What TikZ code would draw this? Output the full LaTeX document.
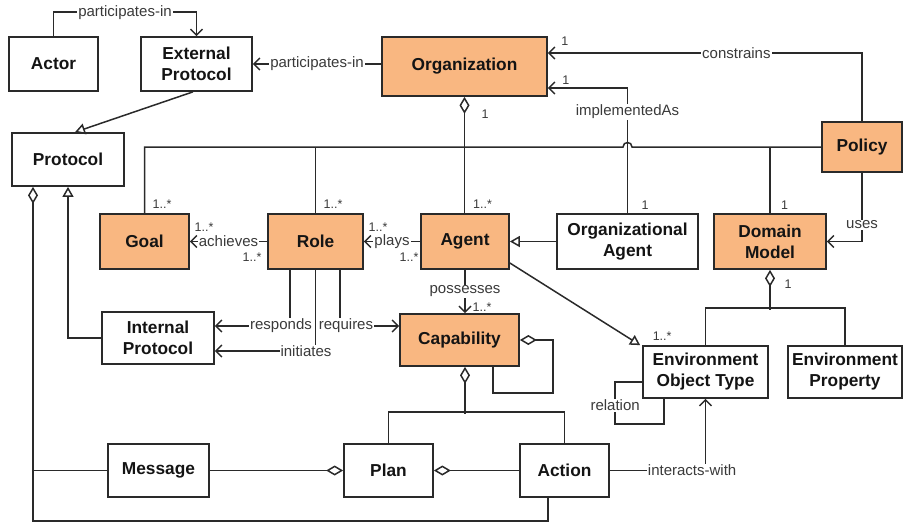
\documentclass[tikz,border=0pt]{standalone}
\usepackage{fontspec}
\setmainfont{Liberation Sans}
\usetikzlibrary{arrows.meta}
\definecolor{orangefill}{RGB}{249,183,129}
\definecolor{ink}{RGB}{42,42,42}
\definecolor{labelink}{RGB}{58,58,58}

\begin{document}
\begin{tikzpicture}[x=1pt,y=-1pt,
  cls/.style={draw=ink, line width=1.7pt, fill=white, inner sep=0pt, align=center,
    text=black!92, font=\fontsize{17.3}{21}\selectfont\bfseries},
  hot/.style={cls, fill=orangefill},
  link/.style={draw=ink, line width=1.5pt},
  assoc/.style={link, -{Straight Barb[length=6pt,width=12pt]}},
  gen/.style={link, -{Triangle[open,length=10pt,width=11pt]}},
  aggend/.style={link, -{Diamond[open,length=17pt,width=10pt]}},
  aggstart/.style={link, {Diamond[open,length=17pt,width=10pt]}-},
  lbl/.style={fill=white, inner sep=1pt, text=labelink, font=\fontsize{15}{16}\selectfont},
  mult/.style={inner sep=0pt, text=labelink, font=\fontsize{12.5}{13}\selectfont},
]
\useasboundingbox (0,0) rectangle (904,523);

% classes
\node[cls, minimum width=89pt,  minimum height=54pt] (actor)    at (53.5,64)   {Actor};
\node[cls, minimum width=111pt, minimum height=54pt] (ep)       at (196.5,64)  {External\\Protocol};
\node[cls, minimum width=112pt, minimum height=53pt] (protocol) at (68,159.5)  {Protocol};
\node[hot, minimum width=165pt, minimum height=59pt] (org)      at (464.5,66.5) {Organization};
\node[hot, minimum width=80pt,  minimum height=50pt] (policy)   at (862,147)   {Policy};
\node[hot, minimum width=89pt,  minimum height=55pt] (goal)     at (144.5,241.5) {Goal};
\node[hot, minimum width=95pt,  minimum height=55pt] (role)     at (315.5,241.5) {Role};
\node[hot, minimum width=88pt,  minimum height=55pt] (agent)    at (465,241.5) {Agent};
\node[cls, minimum width=141pt, minimum height=55pt] (oa)       at (627.5,241.5) {Organizational\\Agent};
\node[hot, minimum width=112pt, minimum height=55pt] (dm)       at (770,241.5) {Domain\\Model};
\node[cls, minimum width=112pt, minimum height=52pt] (ip)       at (158,338)   {Internal\\Protocol};
\node[hot, minimum width=119pt, minimum height=52pt] (cap)      at (459.5,340) {Capability};
\node[cls, minimum width=125pt, minimum height=52pt] (eot)      at (705.5,372) {Environment\\Object Type};
\node[cls, minimum width=114pt, minimum height=52pt] (envprop)  at (845,372)   {Environment\\Property};
\node[cls, minimum width=101pt, minimum height=53pt] (message)  at (158.5,470.5) {Message};
\node[cls, minimum width=89pt,  minimum height=53pt] (plan)     at (388.5,470.5) {Plan};
\node[cls, minimum width=89pt,  minimum height=53pt] (action)   at (564.5,470.5) {Action};

% participation in protocols
\draw[assoc] (actor.north) -- ++(0,-24) -| node[lbl, pos=0.25] {participates-in} (ep.north);
\draw[assoc] (ep.east -| org.west) -- node[lbl] {participates-in} (ep.east);
\draw[gen] ([xshift=-3.5pt]ep.south) -- ([xshift=7pt]protocol.north);

% organization constraints and implementation
\draw[assoc] (policy.north) |- node[lbl, pos=0.7] {constrains} ([yshift=13.5pt]org.east);
\node[mult] at ([xshift=17pt,yshift=25.5pt]org.east) {1};
\draw[assoc] (oa.north) |- node[lbl, pos=0.405] {implementedAs} ([yshift=-21.5pt]org.east);
\node[mult] at ([xshift=18pt,yshift=-13.5pt]org.east) {1};

% aggregation bus under the organization
\coordinate (hop) at (oa.north |- policy.west);
\draw[link] (goal.north) -- (goal.north |- policy.west) -- ([xshift=-4.5pt]hop)
  .. controls +(0,6pt) and +(0,6pt) .. ([xshift=4.5pt]hop) -- (policy.west);
\draw[link] (role.north) -- (role.north |- policy.west);
\draw[link] (dm.north) -- (dm.north |- policy.west);
\draw[aggstart] (org.south) -- (org.south |- agent.north);
\node[mult] at ([xshift=20.5pt,yshift=-17pt]org.south) {1};
\node[mult] at ([xshift=17.5pt,yshift=9pt]goal.north) {1..*};
\node[mult] at ([xshift=17.5pt,yshift=9pt]role.north) {1..*};
\node[mult] at ([xshift=17.5pt,yshift=9pt]agent.north) {1..*};
\node[mult] at ([xshift=17.5pt,yshift=8pt]oa.north) {1};
\node[mult] at ([xshift=14.5pt,yshift=8pt]dm.north) {1};
\draw[assoc] (policy.south) |- node[lbl, pos=0.38] {uses} (dm.east);

% roles, goals and agents
\draw[assoc] (role.west) -- node[lbl] {achieves} (goal.east);
\node[mult] at (204,227) {1..*};
\node[mult] at (252,257) {1..*};
\draw[assoc] (agent.west) -- node[lbl] {plays} (role.east);
\node[mult] at (378,227) {1..*};
\node[mult] at (409,257) {1..*};
\draw[gen] (oa.west) -- (agent.east);
\draw[gen] ([yshift=-21.5pt]agent.east) -- ([xshift=-2pt]eot.north west);
\draw[assoc] (agent.south) -- node[lbl] {possesses} (agent.south |- cap.north);
\node[mult] at (482,307) {1..*};

% role interactions with protocols and capabilities
\draw[assoc] ([xshift=-25.5pt]role.south) |- node[lbl, pos=0.5, xshift=-9pt] {responds} ([yshift=12pt]ip.east);
\draw[assoc] (role.south) |- node[lbl, pos=0.5, xshift=-9.5pt] {initiates} ([yshift=-13pt]ip.east);
\draw[assoc] ([xshift=24.5pt]role.south) |- node[lbl, pos=0.5, xshift=6pt] {requires} ([yshift=14pt]cap.west);
\draw[gen] (ip.west) -| (protocol.south);

% capability structure
\draw[aggstart] (cap.east) -- ++(33,0) -- ++(0,53) -| ([xshift=33.5pt]cap.south);
\draw[aggstart] ([xshift=5.5pt]cap.south) -- ++(0,47);
\draw[link] (plan.north) -- ++(0,-31) -| (action.north);
\draw[aggend] (message.east) -- (plan.west);
\draw[aggend] (action.west) -- (plan.east);

% protocol contents
\coordinate (pcorner) at (33,521);
\draw[aggend] ([xshift=-16.5pt]action.south) |- (pcorner) -- ([xshift=-35pt]protocol.south);
\draw[link] (message.west) -- (message.west -| pcorner);

% environment
\draw[assoc] (action.east) -| node[lbl, pos=0.43] {interacts-with} (eot.south);
\draw[link] ([yshift=-10pt]eot.west) -- ++(-27,0) -- node[lbl, pos=0.55] {relation} ++(0,42)
  -| ([xshift=-41.5pt]eot.south);
\draw[aggstart] (dm.south) -- ++(0,40);
\draw[link] (eot.north) -- ++(0,-37) -| (envprop.north);
\node[mult] at ([xshift=18pt,yshift=-14pt]dm.south) {1};
\node[mult] at ([xshift=20pt,yshift=9pt]eot.north west) {1..*};
\end{tikzpicture}
\end{document}
